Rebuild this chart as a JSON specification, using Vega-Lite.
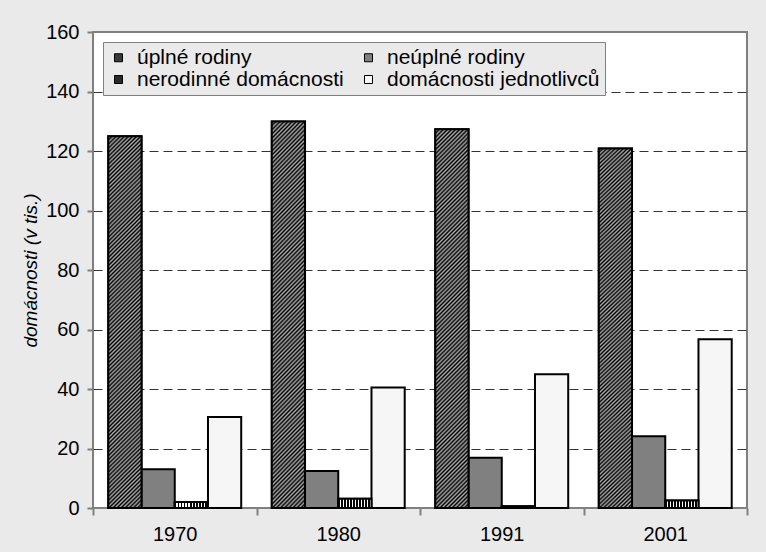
{
  "$schema": "https://vega.github.io/schema/vega-lite/v6.json",
  "width": 654,
  "height": 476,
  "autosize": {"type": "none"},
  "padding": {"left": 93, "top": 32, "right": 19, "bottom": 44},
  "background": "#eaeaea",
  "config": {
    "font": "Liberation Sans",
    "view": {"stroke": "#808080", "strokeWidth": 2, "fill": "#ffffff"}
  },
  "data": {
    "values": [
      {"rok": "1970", "typ": "úplné rodiny", "pocet": 125.0},
      {"rok": "1970", "typ": "neúplné rodiny", "pocet": 13.0},
      {"rok": "1970", "typ": "nerodinné domácnosti", "pocet": 2.0},
      {"rok": "1970", "typ": "domácnosti jednotlivců", "pocet": 30.6},
      {"rok": "1980", "typ": "úplné rodiny", "pocet": 129.9},
      {"rok": "1980", "typ": "neúplné rodiny", "pocet": 12.4},
      {"rok": "1980", "typ": "nerodinné domácnosti", "pocet": 3.1},
      {"rok": "1980", "typ": "domácnosti jednotlivců", "pocet": 40.5},
      {"rok": "1991", "typ": "úplné rodiny", "pocet": 127.3},
      {"rok": "1991", "typ": "neúplné rodiny", "pocet": 16.9},
      {"rok": "1991", "typ": "nerodinné domácnosti", "pocet": 0.6},
      {"rok": "1991", "typ": "domácnosti jednotlivců", "pocet": 45.0},
      {"rok": "2001", "typ": "úplné rodiny", "pocet": 120.8},
      {"rok": "2001", "typ": "neúplné rodiny", "pocet": 24.1},
      {"rok": "2001", "typ": "nerodinné domácnosti", "pocet": 2.5},
      {"rok": "2001", "typ": "domácnosti jednotlivců", "pocet": 56.7}
    ]
  },
  "encoding": {
    "x": {
      "field": "rok",
      "type": "nominal",
      "scale": {"paddingInner": 0, "paddingOuter": 0},
      "axis": {
        "title": null,
        "labelAngle": 0,
        "tickBand": "extent",
        "domain": false,
        "grid": false,
        "tickColor": "#808080",
        "tickSize": 7,
        "tickWidth": 2,
        "labelFontSize": 20,
        "labelColor": "#000000",
        "labelPadding": 9
      }
    },
    "xOffset": {
      "field": "typ",
      "type": "nominal",
      "scale": {
        "domain": ["úplné rodiny", "neúplné rodiny", "nerodinné domácnosti", "domácnosti jednotlivců"],
        "paddingInner": 0,
        "paddingOuter": 0.46
      }
    },
    "y": {
      "field": "pocet",
      "type": "quantitative",
      "scale": {"domain": [0, 160], "nice": false},
      "axis": {
        "values": [0, 20, 40, 60, 80, 100, 120, 140, 160],
        "title": "domácnosti (v tis.)",
        "titleFontStyle": "italic",
        "titleFontWeight": "normal",
        "titleFontSize": 19,
        "titleColor": "#000000",
        "titlePadding": 5,
        "domain": false,
        "grid": true,
        "gridColor": "#333333",
        "gridDash": [9, 5],
        "gridWidth": 1,
        "gridOpacity": {"condition": {"test": "datum.value === 0 || datum.value === 160", "value": 0}, "value": 1},
        "tickColor": "#808080",
        "tickSize": 6,
        "tickWidth": 2,
        "labelFontSize": 20,
        "labelColor": "#000000",
        "labelPadding": 8
      }
    }
  },
  "layer": [
    {
      "mark": {"type": "bar", "stroke": "#000000", "strokeWidth": 2},
      "encoding": {
        "color": {
          "field": "typ",
          "type": "nominal",
          "scale": {
            "domain": ["úplné rodiny", "nerodinné domácnosti", "neúplné rodiny", "domácnosti jednotlivců"],
            "range": ["#3a3a3a", "#2a2a2a", "#808080", "#f6f6f6"]
          },
          "legend": {
            "title": null,
            "orient": "top-left",
            "offset": 10,
            "columns": 2,
            "fillColor": "#eaeaea",
            "strokeColor": "#808080",
            "padding": 5,
            "symbolType": "square",
            "symbolSize": 64,
            "symbolStrokeColor": "#000000",
            "symbolStrokeWidth": 1,
            "labelFontSize": 21,
            "labelLimit": 400,
            "labelColor": "#000000",
            "labelOffset": 8,
            "columnPadding": 14,
            "rowPadding": 0
          }
        }
      }
    },
    {
      "transform": [{"filter": "datum.typ === 'úplné rodiny'"}],
      "mark": {
        "type": "bar",
        "stroke": "#000000",
        "strokeWidth": 2,
        "fill": {"gradient": "linear", "x1": 0, "y1": 0, "x2": 0.0956, "y2": 1.08, "stops": [
          {"offset":0,"color":"#000"},{"offset":0.005,"color":"#aaa"},{"offset":0.01,"color":"#000"},{"offset":0.015,"color":"#aaa"},{"offset":0.02,"color":"#000"},{"offset":0.025,"color":"#aaa"},{"offset":0.03,"color":"#000"},{"offset":0.035,"color":"#aaa"},{"offset":0.04,"color":"#000"},{"offset":0.045,"color":"#aaa"},
          {"offset":0.05,"color":"#000"},{"offset":0.055,"color":"#aaa"},{"offset":0.06,"color":"#000"},{"offset":0.065,"color":"#aaa"},{"offset":0.07,"color":"#000"},{"offset":0.075,"color":"#aaa"},{"offset":0.08,"color":"#000"},{"offset":0.085,"color":"#aaa"},{"offset":0.09,"color":"#000"},{"offset":0.095,"color":"#aaa"},
          {"offset":0.1,"color":"#000"},{"offset":0.105,"color":"#aaa"},{"offset":0.11,"color":"#000"},{"offset":0.115,"color":"#aaa"},{"offset":0.12,"color":"#000"},{"offset":0.125,"color":"#aaa"},{"offset":0.13,"color":"#000"},{"offset":0.135,"color":"#aaa"},{"offset":0.14,"color":"#000"},{"offset":0.145,"color":"#aaa"},
          {"offset":0.15,"color":"#000"},{"offset":0.155,"color":"#aaa"},{"offset":0.16,"color":"#000"},{"offset":0.165,"color":"#aaa"},{"offset":0.17,"color":"#000"},{"offset":0.175,"color":"#aaa"},{"offset":0.18,"color":"#000"},{"offset":0.185,"color":"#aaa"},{"offset":0.19,"color":"#000"},{"offset":0.195,"color":"#aaa"},
          {"offset":0.2,"color":"#000"},{"offset":0.205,"color":"#aaa"},{"offset":0.21,"color":"#000"},{"offset":0.215,"color":"#aaa"},{"offset":0.22,"color":"#000"},{"offset":0.225,"color":"#aaa"},{"offset":0.23,"color":"#000"},{"offset":0.235,"color":"#aaa"},{"offset":0.24,"color":"#000"},{"offset":0.245,"color":"#aaa"},
          {"offset":0.25,"color":"#000"},{"offset":0.255,"color":"#aaa"},{"offset":0.26,"color":"#000"},{"offset":0.265,"color":"#aaa"},{"offset":0.27,"color":"#000"},{"offset":0.275,"color":"#aaa"},{"offset":0.28,"color":"#000"},{"offset":0.285,"color":"#aaa"},{"offset":0.29,"color":"#000"},{"offset":0.295,"color":"#aaa"},
          {"offset":0.3,"color":"#000"},{"offset":0.305,"color":"#aaa"},{"offset":0.31,"color":"#000"},{"offset":0.315,"color":"#aaa"},{"offset":0.32,"color":"#000"},{"offset":0.325,"color":"#aaa"},{"offset":0.33,"color":"#000"},{"offset":0.335,"color":"#aaa"},{"offset":0.34,"color":"#000"},{"offset":0.345,"color":"#aaa"},
          {"offset":0.35,"color":"#000"},{"offset":0.355,"color":"#aaa"},{"offset":0.36,"color":"#000"},{"offset":0.365,"color":"#aaa"},{"offset":0.37,"color":"#000"},{"offset":0.375,"color":"#aaa"},{"offset":0.38,"color":"#000"},{"offset":0.385,"color":"#aaa"},{"offset":0.39,"color":"#000"},{"offset":0.395,"color":"#aaa"},
          {"offset":0.4,"color":"#000"},{"offset":0.405,"color":"#aaa"},{"offset":0.41,"color":"#000"},{"offset":0.415,"color":"#aaa"},{"offset":0.42,"color":"#000"},{"offset":0.425,"color":"#aaa"},{"offset":0.43,"color":"#000"},{"offset":0.435,"color":"#aaa"},{"offset":0.44,"color":"#000"},{"offset":0.445,"color":"#aaa"},
          {"offset":0.45,"color":"#000"},{"offset":0.455,"color":"#aaa"},{"offset":0.46,"color":"#000"},{"offset":0.465,"color":"#aaa"},{"offset":0.47,"color":"#000"},{"offset":0.475,"color":"#aaa"},{"offset":0.48,"color":"#000"},{"offset":0.485,"color":"#aaa"},{"offset":0.49,"color":"#000"},{"offset":0.495,"color":"#aaa"},
          {"offset":0.5,"color":"#000"},{"offset":0.505,"color":"#aaa"},{"offset":0.51,"color":"#000"},{"offset":0.515,"color":"#aaa"},{"offset":0.52,"color":"#000"},{"offset":0.525,"color":"#aaa"},{"offset":0.53,"color":"#000"},{"offset":0.535,"color":"#aaa"},{"offset":0.54,"color":"#000"},{"offset":0.545,"color":"#aaa"},
          {"offset":0.55,"color":"#000"},{"offset":0.555,"color":"#aaa"},{"offset":0.56,"color":"#000"},{"offset":0.565,"color":"#aaa"},{"offset":0.57,"color":"#000"},{"offset":0.575,"color":"#aaa"},{"offset":0.58,"color":"#000"},{"offset":0.585,"color":"#aaa"},{"offset":0.59,"color":"#000"},{"offset":0.595,"color":"#aaa"},
          {"offset":0.6,"color":"#000"},{"offset":0.605,"color":"#aaa"},{"offset":0.61,"color":"#000"},{"offset":0.615,"color":"#aaa"},{"offset":0.62,"color":"#000"},{"offset":0.625,"color":"#aaa"},{"offset":0.63,"color":"#000"},{"offset":0.635,"color":"#aaa"},{"offset":0.64,"color":"#000"},{"offset":0.645,"color":"#aaa"},
          {"offset":0.65,"color":"#000"},{"offset":0.655,"color":"#aaa"},{"offset":0.66,"color":"#000"},{"offset":0.665,"color":"#aaa"},{"offset":0.67,"color":"#000"},{"offset":0.675,"color":"#aaa"},{"offset":0.68,"color":"#000"},{"offset":0.685,"color":"#aaa"},{"offset":0.69,"color":"#000"},{"offset":0.695,"color":"#aaa"},
          {"offset":0.7,"color":"#000"},{"offset":0.705,"color":"#aaa"},{"offset":0.71,"color":"#000"},{"offset":0.715,"color":"#aaa"},{"offset":0.72,"color":"#000"},{"offset":0.725,"color":"#aaa"},{"offset":0.73,"color":"#000"},{"offset":0.735,"color":"#aaa"},{"offset":0.74,"color":"#000"},{"offset":0.745,"color":"#aaa"},
          {"offset":0.75,"color":"#000"},{"offset":0.755,"color":"#aaa"},{"offset":0.76,"color":"#000"},{"offset":0.765,"color":"#aaa"},{"offset":0.77,"color":"#000"},{"offset":0.775,"color":"#aaa"},{"offset":0.78,"color":"#000"},{"offset":0.785,"color":"#aaa"},{"offset":0.79,"color":"#000"},{"offset":0.795,"color":"#aaa"},
          {"offset":0.8,"color":"#000"},{"offset":0.805,"color":"#aaa"},{"offset":0.81,"color":"#000"},{"offset":0.815,"color":"#aaa"},{"offset":0.82,"color":"#000"},{"offset":0.825,"color":"#aaa"},{"offset":0.83,"color":"#000"},{"offset":0.835,"color":"#aaa"},{"offset":0.84,"color":"#000"},{"offset":0.845,"color":"#aaa"},
          {"offset":0.85,"color":"#000"},{"offset":0.855,"color":"#aaa"},{"offset":0.86,"color":"#000"},{"offset":0.865,"color":"#aaa"},{"offset":0.87,"color":"#000"},{"offset":0.875,"color":"#aaa"},{"offset":0.88,"color":"#000"},{"offset":0.885,"color":"#aaa"},{"offset":0.89,"color":"#000"},{"offset":0.895,"color":"#aaa"},
          {"offset":0.9,"color":"#000"},{"offset":0.905,"color":"#aaa"},{"offset":0.91,"color":"#000"},{"offset":0.915,"color":"#aaa"},{"offset":0.92,"color":"#000"},{"offset":0.925,"color":"#aaa"},{"offset":0.93,"color":"#000"},{"offset":0.935,"color":"#aaa"},{"offset":0.94,"color":"#000"},{"offset":0.945,"color":"#aaa"},
          {"offset":0.95,"color":"#000"},{"offset":0.955,"color":"#aaa"},{"offset":0.96,"color":"#000"},{"offset":0.965,"color":"#aaa"},{"offset":0.97,"color":"#000"},{"offset":0.975,"color":"#aaa"},{"offset":0.98,"color":"#000"},{"offset":0.985,"color":"#aaa"},{"offset":0.99,"color":"#000"},{"offset":0.995,"color":"#aaa"},
          {"offset":1,"color":"#000"}
        ]}
      }
    },
    {
      "transform": [{"filter": "datum.typ === 'nerodinné domácnosti'"}],
      "mark": {
        "type": "bar",
        "stroke": "#000000",
        "strokeWidth": 2,
        "fill": {"gradient": "linear", "x1": 0, "y1": 0, "x2": 1, "y2": 0, "stops": [
          {"offset": 0, "color": "#000"}, {"offset": 0.05, "color": "#000"}, {"offset": 0.05, "color": "#fff"}, {"offset": 0.0909, "color": "#fff"},
          {"offset": 0.0909, "color": "#000"}, {"offset": 0.1409, "color": "#000"}, {"offset": 0.1409, "color": "#fff"}, {"offset": 0.1818, "color": "#fff"},
          {"offset": 0.1818, "color": "#000"}, {"offset": 0.2318, "color": "#000"}, {"offset": 0.2318, "color": "#fff"}, {"offset": 0.2727, "color": "#fff"},
          {"offset": 0.2727, "color": "#000"}, {"offset": 0.3227, "color": "#000"}, {"offset": 0.3227, "color": "#fff"}, {"offset": 0.3636, "color": "#fff"},
          {"offset": 0.3636, "color": "#000"}, {"offset": 0.4136, "color": "#000"}, {"offset": 0.4136, "color": "#fff"}, {"offset": 0.4545, "color": "#fff"},
          {"offset": 0.4545, "color": "#000"}, {"offset": 0.5045, "color": "#000"}, {"offset": 0.5045, "color": "#fff"}, {"offset": 0.5455, "color": "#fff"},
          {"offset": 0.5455, "color": "#000"}, {"offset": 0.5955, "color": "#000"}, {"offset": 0.5955, "color": "#fff"}, {"offset": 0.6364, "color": "#fff"},
          {"offset": 0.6364, "color": "#000"}, {"offset": 0.6864, "color": "#000"}, {"offset": 0.6864, "color": "#fff"}, {"offset": 0.7273, "color": "#fff"},
          {"offset": 0.7273, "color": "#000"}, {"offset": 0.7773, "color": "#000"}, {"offset": 0.7773, "color": "#fff"}, {"offset": 0.8182, "color": "#fff"},
          {"offset": 0.8182, "color": "#000"}, {"offset": 0.8682, "color": "#000"}, {"offset": 0.8682, "color": "#fff"}, {"offset": 0.9091, "color": "#fff"},
          {"offset": 0.9091, "color": "#000"}, {"offset": 0.9591, "color": "#000"}, {"offset": 0.9591, "color": "#fff"}, {"offset": 1, "color": "#fff"}
        ]}
      }
    }
  ]
}
